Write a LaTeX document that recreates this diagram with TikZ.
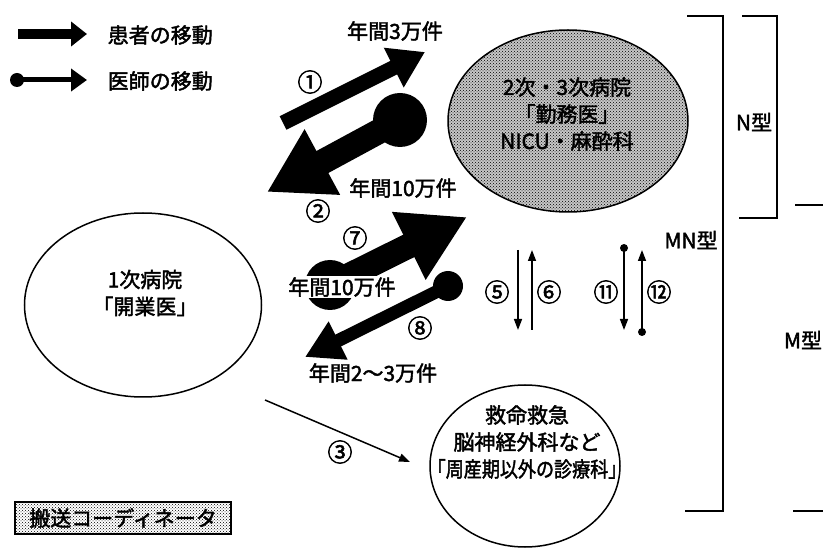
\documentclass[tikz,border=0pt]{standalone}
\usepackage{fontspec}
\setmainfont{Noto Sans CJK JP}[UprightFeatures={FakeBold=2}]
\usetikzlibrary{arrows.meta,shapes.geometric,patterns,calc}
\tikzset{
every picture/.style={
line width=1.5pt
}}

\begin{document}
\begin{tikzpicture}[x=1pt, y=-1pt,
lbl/.style = {font=\fontsize{21}{27}\selectfont, inner sep=0pt, align=center},
num/.style = {font=\fontsize{25}{27}\selectfont, inner sep=0pt},
ward/.style = {ellipse, draw=black, line width=1.5pt, inner sep=0pt},
dots/.style = {preaction={fill=black!22}, pattern=crosshatch dots},
ball/.style = {circle, fill=black, inner sep=0pt, minimum size=#1},
thickarr/.style n args = {3}{line width=#1, -{Triangle[length=#2, width=#3]}},
thinarr/.style = {line width=1.5pt, -{Triangle[length=11pt, width=8pt]}}]
\useasboundingbox (0,0) rectangle (823,548);

% legend
\coordinate (lp0) at (18,34);
\coordinate (lp1) at (87,34);
\draw[thickarr={10pt}{16pt}{24pt}] (lp0) -- (lp1);
\node[lbl, anchor=west] (lpt) at (107,35) {患者の移動};
\node[ball=14pt] (ld0) at (17,80) {};
\coordinate (ld1) at (87,80);
\draw[thickarr={5pt}{16pt}{22pt}] (ld0.center) -- (ld1);
\node[lbl, anchor=west] (ldt) at (107,81) {医師の移動};

% hospitals
\node[ward, minimum width=237pt, minimum height=184pt] (clinic) at (143,305) {};
\node[lbl] (clinictxt) at (145,293) {1次病院\\「開業医」};
\node[ward, dots, minimum width=240pt, minimum height=182pt] (hosp) at (568,121) {};
\node[lbl] (hosptxt) at (567,114) {2次・3次病院\\「勤務医」\\NICU・麻酔科};
\node[ward, minimum width=190pt, minimum height=162pt] (emerg) at (525,466) {};
\node[lbl] (emergtxt) at (527,442) {救命救急\\脳神経外科など\\\scalebox{0.86}[1]{「周産期以外の診療科」}};

% moves between clinic and hospital
\coordinate (a1s) at (283,123);
\coordinate (a1e) at (425,52);
\draw[thickarr={15pt}{35pt}{42pt}] (a1s) -- (a1e);
\node[num] (n1) at (310,82) {①};
\node[lbl] (c1) at (395,31) {年間3万件};

\node[ball=54pt] (b2) at (400,120) {};
\coordinate (a2e) at (267,192);
\draw[thickarr={25pt}{63pt}{70pt}] (b2.center) -- (a2e);
\node[num] (n2) at (318,211) {②};
\node[lbl] (c2) at (403,188) {年間10万件};

\node[ball=50pt] (b7) at (330,285) {};
\coordinate (a7e) at (467,217);
\draw[thickarr={25pt}{65pt}{71pt}] (b7.center) -- (a7e);
\node[num] (n7) at (355,238) {⑦};
\node[lbl, fill=white, inner sep=1pt] (c7) at (342,287) {年間10万件};

\node[ball=30pt] (b8) at (448,286) {};
\coordinate (a8e) at (305,357);
\draw[thickarr={13pt}{37pt}{40pt}] (b8.center) -- (a8e);
\node[num] (n8) at (420,328) {⑧};
\node[lbl] (c8) at (373,373) {年間2〜3万件};

\coordinate (a3s) at (265,400);
\coordinate (a3e) at (410,462);
\draw[thinarr] (a3s) -- (a3e);
\node[num] (n3) at (340,452) {③};

% moves between hospital and emergency
\coordinate (a5s) at (518,250);
\coordinate (a5e) at (518,330);
\draw[thinarr] (a5s) -- (a5e);
\coordinate (a6s) at (532,330);
\coordinate (a6e) at (532,250);
\draw[thinarr] (a6s) -- (a6e);
\node[ball=8pt] (b11) at (624,248) {};
\coordinate (a11e) at (624,330);
\draw[thinarr] (b11.center) -- (a11e);
\node[ball=8pt] (b12) at (642,332) {};
\coordinate (a12e) at (642,250);
\draw[thinarr] (b12.center) -- (a12e);
\node[num] (n5) at (497,292) {⑤};
\node[num] (n6) at (549,292) {⑥};
\node[num] (n11) at (606,292) {⑪};
\node[num] (n12) at (659,292) {⑫};

% type brackets
\draw (687,16) -- (723,16) -- (723,511) -- (685,511);
\draw (742,16) -- (777,16) -- (777,218) -- (739,218);
\draw (795,205) -- (823,205);
\draw (793,511) -- (823,511);
\node[lbl] (tn) at (754,122) {N型};
\node[lbl] (tmn) at (691,240) {MN型};
\node[lbl] (tm) at (803,340) {M型};

% coordinator box
\node[lbl, draw, pattern=crosshatch dots, minimum width=216pt, minimum height=32pt] (coord) at (123,518) {搬送コーディネータ};
\end{tikzpicture}
\end{document}
